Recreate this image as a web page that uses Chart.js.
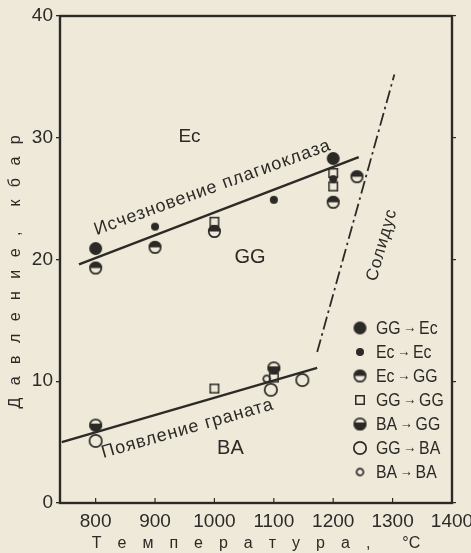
<!DOCTYPE html>
<html><head><meta charset="utf-8">
<script src="https://cdn.jsdelivr.net/npm/chart.js@4"></script>
<style>
html,body{margin:0;padding:0;background:#efe9d9;}
#wrap{width:471px;height:553px;position:relative;}
canvas{display:block;}
</style></head><body>
<div id="wrap"><canvas id="c" width="471" height="553"></canvas></div>
<script>
// ---------- data ----------
const xTicks = [800, 900, 1000, 1100, 1200, 1300, 1400];
const yTicks = [0, 10, 20, 30, 40];
const seriesFrom = ['GG', 'Ec', 'Ec', 'GG', 'BA', 'GG', 'BA'];
const seriesTo   = ['Ec', 'Ec', 'GG', 'GG', 'GG', 'BA', 'BA'];
const seriesNames = seriesFrom.map((f, i) => f + ' \u2192 ' + seriesTo[i]);

const ggEcX = [800, 1200],                  ggEcY = [20.9, 28.3];
const ecEcX = [900, 1100, 1200],            ecEcY = [22.7, 24.9, 26.6];
const ecGgX = [800, 900, 1000, 1200, 1240], ecGgY = [19.3, 21.0, 22.3, 24.7, 26.8];
const ggGgX = [1000, 1200, 1200, 1000, 1100], ggGgY = [23.1, 27.1, 26.0, 9.4, 10.3];
const baGgX = [800, 1100],                  baGgY = [6.4, 11.1];
const ggBaX = [800, 1095, 1148],            ggBaY = [5.1, 9.3, 10.1];
const baBaX = [1088],                       baBaY = [10.2];

const plagLineX = [772, 1243],  plagLineY = [19.6, 28.4];   // Исчезновение плагиоклаза
const garnLineX = [743, 1173],  garnLineY = [5.0, 11.1];    // Появление граната
const solidusX  = [1173, 1303], solidusY  = [12.4, 35.2];   // Солидус

const labelTexts = ['Исчезновение плагиоклаза', 'Появление граната', 'Солидус', 'Ec', 'GG', 'BA'];
const labelX = [997, 955, 1282, 958, 1060, 1027];
const labelY = [25.9, 6.1, 21.2, 30.1, 20.2, 4.5];

const SPX = '\u2002\u2002';
const SPY = '\u2002 ';
const xTitle = ['Т','е','м','п','е','р','а','т','у','р','а',','].join(SPX) + SPX + SPX + '°С';
const yTitle = ['Д','а','в','л','е','н','и','е',','].join(SPY) + SPY + SPY + ['к','б','а','р'].join(SPY) + SPY + SPY;

// ---------- style ----------
const INK = '#2c2a27';
const FONT = "'Liberation Sans', Arial, sans-serif";

function sym(kind, r) {
  const s = Math.ceil(2 * r + 4);
  const c = document.createElement('canvas');
  c.width = s; c.height = s;
  const g = c.getContext('2d');
  const m = s / 2;
  g.strokeStyle = INK; g.fillStyle = INK; g.lineWidth = 1.7;
  if (kind === 'filled') {
    g.beginPath(); g.arc(m, m, r, 0, 2 * Math.PI); g.fill();
  } else if (kind === 'open') {
    g.beginPath(); g.arc(m, m, r - 0.8, 0, 2 * Math.PI); g.stroke();
  } else if (kind === 'top') {
    g.beginPath(); g.arc(m, m, r, Math.PI, 2 * Math.PI); g.closePath(); g.fill();
    g.beginPath(); g.arc(m, m, r - 0.8, 0, 2 * Math.PI); g.stroke();
  } else if (kind === 'bottom') {
    g.beginPath(); g.arc(m, m, r, -0.08 * Math.PI, 1.08 * Math.PI); g.closePath(); g.fill();
    g.beginPath(); g.arc(m, m, r - 0.8, 0, 2 * Math.PI); g.stroke();
  } else if (kind === 'square') {
    g.lineWidth = 1.5;
    g.strokeRect(m - r + 0.75, m - r + 0.75, 2 * r - 1.5, 2 * r - 1.5);
  }
  return c;
}
const symbols = [
  sym('filled', 6.5), sym('filled', 4), sym('top', 6.5), sym('square', 5),
  sym('bottom', 6.5), sym('open', 7), sym('open', 4.2)
];
const xs = [ggEcX, ecEcX, ecGgX, ggGgX, baGgX, ggBaX, baBaX];
const ys = [ggEcY, ecEcY, ecGgY, ggGgY, baGgY, ggBaY, baBaY];
const pts = (X, Y) => X.map((v, i) => ({ x: v, y: Y[i] }));

const datasets = seriesNames.map((n, k) => ({
  type: 'scatter', label: n, data: pts(xs[k], ys[k]),
  pointStyle: symbols[k], pointRadius: 7, pointHoverRadius: 7, order: 1
}));
datasets.push(
  { type: 'line', label: 'plag', data: pts(plagLineX, plagLineY), borderColor: INK, borderWidth: 2.4, pointRadius: 0, fill: false, order: 5 },
  { type: 'line', label: 'garn', data: pts(garnLineX, garnLineY), borderColor: INK, borderWidth: 2.4, pointRadius: 0, fill: false, order: 5 },
  { type: 'line', label: 'sol', data: pts(solidusX, solidusY), borderColor: INK, borderWidth: 1.8, borderDash: [13, 4, 2.5, 4], pointRadius: 0, fill: false, order: 5 }
);

const labelFonts = ['18px', '18px', '17px', '19px', '20px', '20px'];
const labelAngles = [-20, -16, -74, 0, 0, 0];

function drawFrame(chart) {
  const { ctx, chartArea: a } = chart;
  ctx.save();
  ctx.strokeStyle = INK; ctx.lineWidth = 2.2;
  ctx.strokeRect(a.left, a.top, a.right - a.left, a.bottom - a.top);
  ctx.restore();
}

const deco = {
  id: 'deco',
  beforeDatasetsDraw(chart) {
    const { ctx, chartArea: a, scales } = chart;
    drawFrame(chart);
    ctx.save();
    ctx.strokeStyle = INK; ctx.lineWidth = 1.2;
    xTicks.forEach(v => {
      const px = scales.x.getPixelForValue(v);
      if (px > a.left + 2 && px < a.right - 2) {
        ctx.beginPath(); ctx.moveTo(px, a.bottom - 1); ctx.lineTo(px, a.bottom - 5); ctx.stroke();
      }
    });
    ctx.restore();
  },
  afterDatasetsDraw(chart) {
    const { ctx, scales } = chart;
    ctx.save();
    ctx.fillStyle = INK;
    ctx.textAlign = 'center'; ctx.textBaseline = 'middle';
    labelTexts.forEach((t, i) => {
      const px = scales.x.getPixelForValue(labelX[i]);
      const py = scales.y.getPixelForValue(labelY[i]);
      ctx.save();
      ctx.translate(px, py);
      ctx.rotate(labelAngles[i] * Math.PI / 180);
      ctx.font = labelFonts[i] + ' ' + FONT;
      ctx.letterSpacing = i < 3 ? '1px' : '0px';
      ctx.fillText(t, 0, 0);
      ctx.restore();
    });
    // legend
    const a = chart.chartArea;
    const lx = a.right - 92, ly = a.bottom - 175, step = 24;
    ctx.textAlign = 'left'; ctx.textBaseline = 'middle';
    seriesNames.forEach((n, k) => {
      const y = ly + k * step;
      const s = symbols[k];
      ctx.drawImage(s, lx - s.width / 2, y - s.height / 2);
      ctx.save();
      ctx.translate(lx + 16, y + 1);
      ctx.scale(0.88, 1);
      ctx.font = '18px ' + FONT;
      ctx.fillText(seriesFrom[k], 0, 0);
      let w = ctx.measureText(seriesFrom[k]).width + 3;
      ctx.font = '15px ' + FONT;
      ctx.fillText('\u2192', w, -1);
      w += ctx.measureText('\u2192').width + 3;
      ctx.font = '18px ' + FONT;
      ctx.fillText(seriesTo[k], w, 0);
      ctx.restore();
    });
    ctx.restore();
    drawFrame(chart);
  }
};

new Chart(document.getElementById('c'), {
  data: { datasets },
  options: {
    responsive: false, animation: false,
    layout: { padding: { top: 16, right: 0, bottom: 0, left: 0 } },
    plugins: { legend: { display: false }, tooltip: { enabled: false } },
    scales: {
      x: {
        type: 'linear', position: 'bottom', min: 740, max: 1400,
        afterBuildTicks: s => { s.ticks = xTicks.map(v => ({ value: v })); },
        afterFit: s => { s.height = 50; s.paddingLeft = 0; s.paddingRight = 0; },
        grid: { drawOnChartArea: false, drawTicks: false },
        border: { display: false },
        ticks: { color: INK, font: { family: FONT, size: 19 }, padding: 7, maxRotation: 0, autoSkip: false, callback: v => String(v) },
        title: { display: true, text: xTitle, color: INK, font: { family: FONT, size: 16 }, padding: { top: 0, bottom: 0 } }
      },
      y: {
        type: 'linear', position: 'left', min: 0, max: 40,
        afterBuildTicks: s => { s.ticks = yTicks.map(v => ({ value: v })); },
        afterFit: s => { s.width = 60; s.paddingTop = 0; s.paddingBottom = 0; },
        grid: { drawOnChartArea: false, tickLength: 4, color: INK, lineWidth: 1.3 },
        border: { display: false },
        ticks: { color: INK, font: { family: FONT, size: 19 }, padding: 3, callback: v => String(v) },
        title: { display: true, text: yTitle, color: INK, font: { family: FONT, size: 16 }, padding: { top: 6, bottom: 0 } }
      },
      y2: {
        type: 'linear', position: 'right', min: 0, max: 40,
        afterBuildTicks: s => { s.ticks = yTicks.map(v => ({ value: v })); },
        afterFit: s => { s.width = 19; s.paddingTop = 0; s.paddingBottom = 0; },
        grid: { drawOnChartArea: false, tickLength: 4, color: INK, lineWidth: 1.2 },
        border: { display: false },
        ticks: { display: false }
      }
    }
  },
  plugins: [deco]
});
</script>
</body></html>
